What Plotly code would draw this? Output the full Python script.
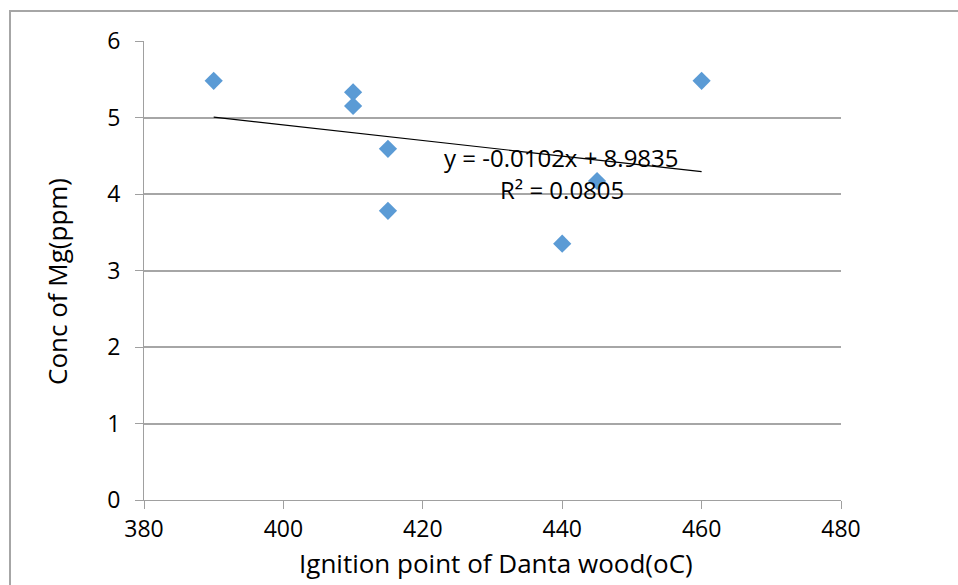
import plotly.graph_objects as go

# Data
ignition_point = [390, 410, 410, 415, 415, 440, 445, 460]
conc_mg = [5.48, 5.33, 5.15, 4.59, 3.78, 3.35, 4.17, 5.48]

trend_slope = -0.0102
trend_intercept = 8.9835
trend_x = [390, 460]
trend_y = [trend_slope * x + trend_intercept for x in trend_x]

eq_text = "y = -0.0102x + 8.9835"
r2_text = "R² = 0.0805"

x_ticks = [380, 400, 420, 440, 460, 480]
y_ticks = [0, 1, 2, 3, 4, 5, 6]

FONT = "Open Sans"
W, H = 958, 585
L, R, T, B = 144, 117, 41, 85
PW, PH = W - L - R, H - T - B

fig = go.Figure()
fig.add_trace(go.Scatter(
    x=ignition_point, y=conc_mg, mode="markers",
    marker=dict(symbol="diamond", size=14, color="#5B9BD5", line=dict(width=0)),
    showlegend=False, hoverinfo="x+y",
))
fig.add_trace(go.Scatter(
    x=trend_x, y=trend_y, mode="lines",
    line=dict(color="black", width=1.2),
    showlegend=False, hoverinfo="skip",
))

fig.add_annotation(x=439.9, y=4.48, xref="x", yref="y", text=eq_text,
                   xanchor="center", yanchor="middle",
                   showarrow=False, font=dict(family=FONT, size=24, color="black"))
fig.add_annotation(x=439.9, y=4.06, xref="x", yref="y", text=r2_text,
                   xanchor="center", yanchor="middle",
                   showarrow=False, font=dict(family=FONT, size=24, color="black"))

# Axis titles
fig.add_annotation(x=(57 - L) / PW, y=(H - B - 282) / PH, xref="paper", yref="paper",
                   text="Conc of Mg(ppm)", textangle=-90, showarrow=False,
                   xanchor="center", yanchor="middle",
                   font=dict(family=FONT, size=26, color="black"))
fig.add_annotation(x=(496 - L) / PW, y=-(H - 2 - (H - B)) / PH, xref="paper", yref="paper",
                   text="Ignition point of Danta wood(oC)", showarrow=False,
                   xanchor="center", yanchor="bottom",
                   font=dict(family=FONT, size=26, color="black"))

# Outer border
fig.add_shape(type="rect", xref="paper", yref="paper",
              x0=(10 - L) / PW, x1=(W + 20 - L) / PW,
              y0=-(H + 20 - (H - B)) / PH, y1=1 + (T - 11) / PH,
              line=dict(color="#A6A6A6", width=2), layer="below")

fig.update_layout(
    width=W, height=H,
    margin=dict(l=L, r=R, t=T, b=B),
    paper_bgcolor="white", plot_bgcolor="white",
    font=dict(family=FONT, size=23, color="black"),
)
fig.update_xaxes(
    range=[380, 480], tickvals=x_ticks, showgrid=False,
    showline=True, linecolor="#A0A0A0", linewidth=1,
    ticks="outside", ticklen=8, tickcolor="#A0A0A0",
    tickfont=dict(family=FONT, size=23), zeroline=False,
)
fig.update_yaxes(
    range=[0, 6], tickvals=y_ticks, showgrid=True, gridcolor="#A6A6A6", gridwidth=1.5,
    showline=True, linecolor="#A0A0A0", linewidth=1,
    ticks="outside", ticklen=8, tickcolor="#A0A0A0",
    tickfont=dict(family=FONT, size=23), zeroline=False,
    ticklabelstandoff=10,
)

fig.write_html("out.html")
